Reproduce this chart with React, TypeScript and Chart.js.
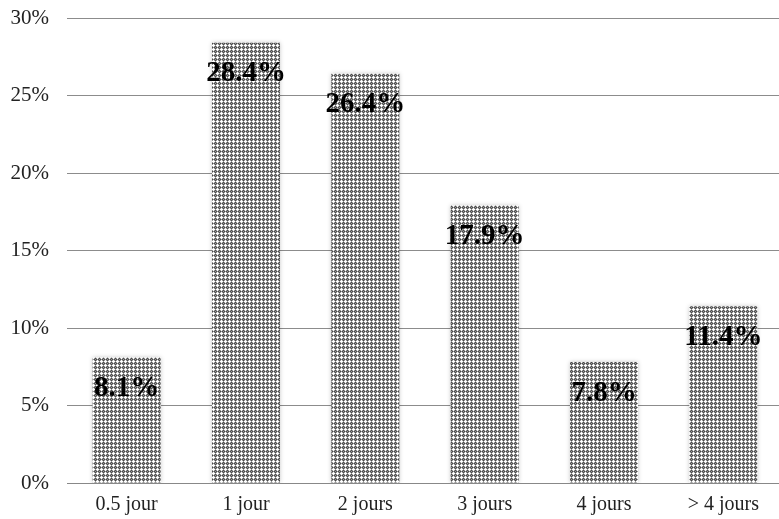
import React, { useEffect, useRef } from "react";
import { Chart, registerables } from "chart.js";

Chart.register(...registerables);

const categories = ["0.5 jour", "1 jour", "2 jours", "3 jours", "4 jours", "> 4 jours"];
const values = [8.1, 28.4, 26.4, 17.9, 7.8, 11.4];
const yTicks = [0, 5, 10, 15, 20, 25, 30];

function makePattern(ctx: CanvasRenderingContext2D): CanvasPattern | string {
  const c = document.createElement("canvas");
  c.width = 4;
  c.height = 4;
  const p = c.getContext("2d");
  if (!p) return "#999";
  const D = "#4a4a4a";
  const G = "#969696";
  const W = "#ffffff";
  const grid = [
    [G, W, G, D],
    [W, W, W, G],
    [G, W, G, D],
    [D, G, D, G],
  ];
  for (let y = 0; y < 4; y++) {
    for (let x = 0; x < 4; x++) {
      p.fillStyle = grid[y][x];
      p.fillRect(x, y, 1, 1);
    }
  }
  return ctx.createPattern(c, "repeat") || "#999";
}

const shadowPlugin = {
  id: "barShadow",
  beforeDatasetsDraw(chart: any) {
    const ctx = chart.ctx;
    ctx.save();
    ctx.shadowColor = "rgba(0,0,0,0.22)";
    ctx.shadowBlur = 4;
  },
  afterDatasetsDraw(chart: any) {
    chart.ctx.restore();
  },
};

const labelPlugin = {
  id: "barLabels",
  afterDatasetsDraw(chart: any) {
    const ctx = chart.ctx;
    const meta = chart.getDatasetMeta(0);
    ctx.save();
    ctx.font = "bold 29px 'Liberation Serif', 'Times New Roman', serif";
    ctx.fillStyle = "#000";
    ctx.textAlign = "center";
    ctx.textBaseline = "middle";
    meta.data.forEach((bar: any, i: number) => {
      ctx.fillText(values[i].toFixed(1) + "%", bar.x, bar.y + 31);
    });
    ctx.restore();
  },
};

export default function App() {
  const ref = useRef<HTMLCanvasElement | null>(null);
  useEffect(() => {
    const canvas = ref.current;
    if (!canvas) return;
    const ctx = canvas.getContext("2d");
    if (!ctx) return;
    const pattern = makePattern(ctx);
    const chart = new Chart(ctx, {
      type: "bar",
      data: {
        labels: categories,
        datasets: [
          {
            data: values,
            backgroundColor: pattern as any,
            borderWidth: 0,
            barPercentage: 0.57,
            categoryPercentage: 1,
          },
        ],
      },
      options: {
        responsive: false,
        animation: false,
        layout: { padding: { top: 18, right: 7, left: 0, bottom: 0 } },
        plugins: { legend: { display: false }, tooltip: { enabled: false } },
        scales: {
          x: {
            afterFit: (s: any) => {
              s.height = 36;
              s.paddingLeft = 0;
              s.paddingRight = 0;
            },
            grid: { display: false, drawTicks: false },
            border: { display: true, color: "#888", width: 1 },
            ticks: {
              color: "#222",
              padding: 10,
              font: { family: "'Liberation Serif', 'Times New Roman', serif", size: 20 },
            },
          },
          y: {
            min: 0,
            max: 30,
            afterFit: (s: any) => {
              s.width = 67;
              s.paddingTop = 0;
              s.paddingBottom = 0;
            },
            afterBuildTicks: (s: any) => {
              s.ticks = yTicks.map((v) => ({ value: v }));
            },
            grid: { color: "#8c8c8c", lineWidth: 1, drawTicks: false },
            border: { display: false },
            ticks: {
              color: "#222",
              padding: 18,
              callback: (v: any) => v + "%",
              font: { family: "'Liberation Serif', 'Times New Roman', serif", size: 21 },
            },
          },
        },
      },
      plugins: [shadowPlugin, labelPlugin],
    });
    return () => chart.destroy();
  }, []);
  return (
    <div style={{ position: "fixed", left: 0, top: 0, width: 779, height: 519, overflow: "hidden", background: "#fff" }}>
      <canvas ref={ref} width={790} height={519} style={{ width: 790, height: 519 }} />
    </div>
  );
}
